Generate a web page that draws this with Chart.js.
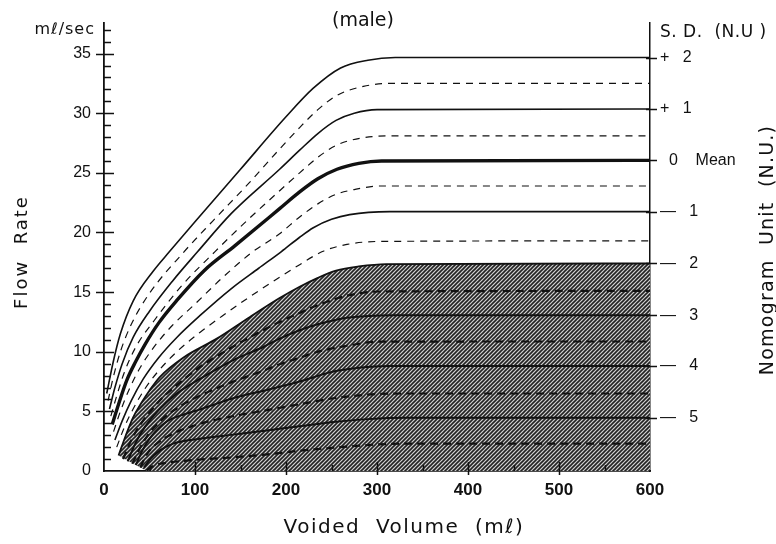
<!DOCTYPE html>
<html>
<head>
<meta charset="utf-8">
<script src="https://cdn.jsdelivr.net/npm/chart.js@4"></script>
<style>
    html, body { margin: 0; padding: 0; background: #fff; }
</style>
</head>
<body>
<canvas id="nomogram" width="776" height="544"></canvas>
<script>
// Curves of the male flow-rate nomogram (volume in ml, flow in ml/sec)
// +2 ... -5.5 S.D., solid on whole units, dashed on half units
const volP20 = [3, 10, 18, 32, 54, 72, 100, 150, 200, 230, 260, 290, 320, 600];
const flowP20 = [6.5, 9.1, 11.5, 14.25, 16.75, 18.4, 20.9, 25.3, 29.7, 32.1, 33.8, 34.45, 34.67, 34.67];

const volP15 = [4.5, 10, 18, 30, 50, 87, 120, 160, 193, 215, 235, 256, 285, 315, 600];
const flowP15 = [5.9, 7.8, 10.0, 12.3, 14.9, 18.3, 21.0, 24.2, 27.0, 28.8, 30.3, 31.5, 32.25, 32.5, 32.5];

const volP10 = [6, 12, 20, 32, 50, 75, 103, 140, 193, 215, 235, 255, 275, 300, 600];
const flowP10 = [5.2, 7.0, 9.0, 11.2, 13.4, 15.9, 18.4, 21.6, 25.3, 26.9, 28.3, 29.4, 30.0, 30.3, 30.35];

const volP05 = [7.5, 14, 22, 35, 55, 85, 122, 160, 193, 215, 235, 255, 285, 320, 600];
const flowP05 = [4.6, 6.3, 8.2, 10.4, 12.6, 15.5, 18.4, 21.2, 23.5, 25.0, 26.3, 27.3, 27.95, 28.1, 28.1];

const volM00 = [9, 16, 25, 35, 45, 60, 80, 110, 144, 193, 215, 235, 256, 280, 305, 600];
const flowM00 = [3.9, 5.6, 7.6, 9.2, 10.6, 12.4, 14.3, 16.8, 18.9, 22.0, 23.4, 24.5, 25.3, 25.8, 26.0, 26.05];

const volM05 = [10.5, 18, 28, 40, 55, 75, 100, 130, 162, 193, 215, 235, 255, 275, 303, 600];
const flowM05 = [3.3, 5.0, 6.9, 8.7, 10.4, 12.2, 14.0, 16.2, 18.3, 19.9, 21.3, 22.4, 23.2, 23.6, 23.9, 23.9];

const volM10 = [12, 20, 30, 43, 60, 80, 105, 140, 170, 195, 215, 230, 250, 270, 314, 600];
const flowM10 = [2.6, 4.2, 5.9, 7.7, 9.5, 11.2, 13.0, 15.3, 17.0, 18.4, 19.6, 20.4, 21.1, 21.5, 21.75, 21.75];

const volM15 = [14, 22, 32, 45, 60, 80, 105, 130, 160, 190, 215, 240, 267, 303, 600];
const flowM15 = [2.0, 3.6, 5.2, 6.9, 8.4, 10.0, 11.6, 13.0, 14.6, 16.1, 17.3, 18.4, 19.0, 19.25, 19.3];

const volM20 = [16, 24, 32, 41, 50, 61, 87, 124, 160, 193, 215, 235, 255, 280, 310, 600];
const flowM20 = [1.3, 3.0, 4.5, 5.7, 6.75, 7.86, 9.5, 11.1, 12.9, 14.5, 15.45, 16.2, 16.8, 17.15, 17.35, 17.4];

const volM25 = [21, 30, 40, 52, 65, 80, 105, 130, 160, 193, 215, 235, 267, 303, 600];
const flowM25 = [1.0, 2.6, 3.9, 5.1, 6.2, 7.2, 8.7, 9.9, 11.2, 12.5, 13.25, 13.9, 14.7, 15.05, 15.1];

const volM30 = [26, 35, 45, 60, 80, 105, 142, 175, 193, 215, 235, 267, 320, 600];
const flowM30 = [0.8, 2.4, 3.7, 5.1, 6.5, 7.7, 9.3, 10.4, 11.1, 11.8, 12.3, 12.85, 13.07, 13.07];

const volM35 = [31, 40, 50, 65, 85, 105, 142, 175, 193, 215, 235, 267, 303, 600];
const flowM35 = [0.6, 2.0, 3.2, 4.4, 5.5, 6.3, 7.5, 8.4, 8.95, 9.5, 10.0, 10.5, 10.85, 10.86];

const volM40 = [35, 42, 52, 69, 90, 105, 142, 179, 215, 250, 280, 314, 600];
const flowM40 = [0.5, 1.7, 2.9, 4.15, 4.8, 5.15, 6.1, 6.8, 7.5, 8.3, 8.65, 8.8, 8.8];

const volM45 = [40, 47, 58, 75, 105, 142, 179, 215, 252, 290, 325, 600];
const flowM45 = [0.3, 1.4, 2.3, 3.1, 3.95, 4.6, 5.1, 5.6, 6.1, 6.4, 6.5, 6.5];

const volM50 = [44, 52, 62, 76, 105, 142, 179, 215, 252, 290, 330, 600];
const flowM50 = [0.3, 1.1, 1.75, 2.3, 2.7, 3.05, 3.4, 3.75, 4.1, 4.35, 4.47, 4.47];

const volM55 = [47, 55, 70, 87, 142, 180, 215, 252, 289, 330, 600];
const flowM55 = [0.05, 0.45, 0.7, 0.85, 1.15, 1.4, 1.7, 1.95, 2.17, 2.3, 2.3];

// foot of the hatched zone on the volume axis (ml)
const shadeFootVol = 47;

// right hand S.D. scale
const sdLabels = ['+   2', '+   1', '  0    Mean', '—   1', '—   2', '—   3', '—   4', '—   5'];
const sdCurves = [flowP20, flowP10, flowM00, flowM10, flowM20, flowM30, flowM40, flowM50];
const sdLevels = sdCurves.map(a => a[a.length - 1]);

const yMax = 37.6;
const xMax = 600;

const toPoints = (vols, flows) => vols.map((v, i) => ({ x: v, y: flows[i] }));

/* Builds the hatching used under the -2 S.D. curve */
const makeHatch = () => {
    const c = document.createElement('canvas');
    c.width = 4;
    c.height = 4;
    const g = c.getContext('2d');
    g.fillStyle = '#d2d2d2';
    g.fillRect(0, 0, 4, 4);
    g.strokeStyle = '#222';
    g.lineWidth = 1.6;
    g.beginPath();
    g.moveTo(0, 4); g.lineTo(4, 0);
    g.moveTo(-1, 1); g.lineTo(1, -1);
    g.moveTo(3, 5); g.lineTo(5, 3);
    g.stroke();
    return g.createPattern(c, 'repeat');
};

const ink = '#111';

const curve = (label, vols, flows, width, dash) => ({
    label: label,
    data: toPoints(vols, flows),
    borderColor: ink,
    borderWidth: width,
    borderDash: dash || [],
    pointRadius: 0,
    fill: false,
    cubicInterpolationMode: 'monotone'
});

const thinDash = [7, 6];
const shadeDash = [8, 5];

const datasets = [
    curve('+2', volP20, flowP20, 1.6),
    curve('+1.5', volP15, flowP15, 1.2, thinDash),
    curve('+1', volP10, flowP10, 1.6),
    curve('+0.5', volP05, flowP05, 1.2, thinDash),
    curve('0', volM00, flowM00, 3.4),
    curve('-0.5', volM05, flowM05, 1.2, thinDash),
    curve('-1', volM10, flowM10, 1.6),
    curve('-1.5', volM15, flowM15, 1.2, thinDash),
    curve('-2', volM20, flowM20, 1.8),
    curve('-2.5', volM25, flowM25, 2.2, shadeDash),
    curve('-3', volM30, flowM30, 2.0),
    curve('-3.5', volM35, flowM35, 2.2, shadeDash),
    curve('-4', volM40, flowM40, 2.0),
    curve('-4.5', volM45, flowM45, 2.2, shadeDash),
    curve('-5', volM50, flowM50, 2.0),
    curve('-5.5', volM55, flowM55, 2.2, shadeDash)
];
const shadeIndex = 8;

/* Hatched zone, tick marks and the loose texts of the scan */
const nomogramDecor = {
    id: 'nomogramDecor',
    beforeDatasetsDraw(chart) {
        const { ctx, chartArea, scales } = chart;
        const line = chart.getDatasetMeta(shadeIndex).dataset;
        line.updateControlPoints(chartArea, 'x');
        ctx.save();
        ctx.beginPath();
        line.path(ctx);
        ctx.lineTo(scales.x.getPixelForValue(xMax), scales.y.getPixelForValue(0));
        ctx.lineTo(scales.x.getPixelForValue(shadeFootVol), scales.y.getPixelForValue(0));
        ctx.closePath();
        ctx.fillStyle = makeHatch();
        ctx.fill();
        ctx.restore();
    },
    afterDraw(chart) {
        const { ctx, chartArea } = chart;
        const { left, right, top, bottom } = chartArea;
        const { x, y, y2 } = chart.scales;

        ctx.save();
        ctx.strokeStyle = ink;
        ctx.lineWidth = 1.5;
        ctx.beginPath();
        y.ticks.forEach(t => {
            if (!Number.isInteger(t.value) || t.value === 0) return;
            const py = Math.round(y.getPixelForValue(t.value)) + 0.5;
            if (t.value % 5 === 0) {
                ctx.moveTo(left - 8, py); ctx.lineTo(left + 10, py);
            } else {
                ctx.moveTo(left, py); ctx.lineTo(left + 7, py);
            }
        });
        x.ticks.forEach(t => {
            if (t.value === 0 || t.value === xMax) return;
            const px = Math.round(x.getPixelForValue(t.value)) + 0.5;
            if (t.value % 100 === 0) {
                ctx.moveTo(px, bottom + 4); ctx.lineTo(px, bottom - 9);
            } else {
                ctx.moveTo(px, bottom); ctx.lineTo(px, bottom - 6);
            }
        });
        sdLevels.forEach(v => {
            const py = Math.round(y2.getPixelForValue(v)) + 0.5;
            ctx.moveTo(right - 4, py); ctx.lineTo(right + 7, py);
        });
        ctx.stroke();

        ctx.fillStyle = ink;
        ctx.textBaseline = 'alphabetic';

        ctx.font = '16px "DejaVu Sans"';
        ctx.letterSpacing = '1px';
        ctx.textAlign = 'right';
        ctx.fillText('mℓ/sec', left - 9, top + 11);

        ctx.font = '19px "DejaVu Sans"';
        ctx.letterSpacing = '0px';
        ctx.textAlign = 'center';
        ctx.fillText('(male)', 363, 26);

        ctx.font = '17px "DejaVu Sans"';
        ctx.letterSpacing = '0.5px';
        ctx.textAlign = 'left';
        ctx.fillText('S. D.  (N.U )', right + 10, top + 14);

        ctx.font = '20px "DejaVu Sans"';
        ctx.letterSpacing = '1.5px';
        ctx.textAlign = 'center';
        ctx.fillText('Voided  Volume  (mℓ)', 404, 533);

        ctx.font = '18px "DejaVu Sans"';
        ctx.letterSpacing = '2px';
        ctx.save();
        ctx.translate(27, 252);
        ctx.rotate(-Math.PI / 2);
        ctx.fillText('Flow  Rate', 0, 0);
        ctx.restore();

        ctx.font = '19px "DejaVu Sans"';
        ctx.letterSpacing = '1.2px';
        ctx.save();
        ctx.translate(773, 250);
        ctx.rotate(-Math.PI / 2);
        ctx.fillText('Nomogram  Unit  (N.U.)', 0, 0);
        ctx.restore();

        ctx.restore();
    }
};

const init = () => {

    const config = {
        type: 'line',
        data: { datasets: datasets },
        options: {
            responsive: false,
            animation: false,
            events: [],
            layout: { padding: { top: 20, left: 0, right: 0, bottom: 0 } },
            plugins: {
                legend: { display: false },
                tooltip: { enabled: false }
            },
            scales: {
                x: {
                    type: 'linear',
                    min: 0,
                    max: xMax,
                    grid: { display: false, drawTicks: false },
                    border: { display: true, color: ink, width: 1.8 },
                    ticks: {
                        stepSize: 50,
                        autoSkip: false,
                        maxRotation: 0,
                        padding: 9,
                        color: ink,
                        font: { family: '"Liberation Sans"', size: 17, weight: 'bold' },
                        callback: v => (v % 100 === 0 ? String(v) : '')
                    },
                    afterFit: scale => { scale.height = 73; }
                },
                y: {
                    type: 'linear',
                    position: 'left',
                    min: 0,
                    max: yMax,
                    grid: { display: false, drawTicks: false },
                    border: { display: true, color: ink, width: 1.8 },
                    ticks: {
                        stepSize: 1,
                        autoSkip: false,
                        includeBounds: false,
                        padding: 13,
                        color: ink,
                        font: { family: '"Liberation Sans"', size: 16 },
                        callback: v => (v % 5 === 0 ? String(v) : '')
                    },
                    afterFit: scale => { scale.width = 104; }
                },
                y2: {
                    type: 'linear',
                    position: 'right',
                    min: 0,
                    max: yMax,
                    grid: { display: false, drawTicks: false },
                    border: { display: true, color: ink, width: 1.5 },
                    afterBuildTicks: scale => {
                        scale.ticks = sdLevels.map(v => ({ value: v }));
                    },
                    ticks: {
                        autoSkip: false,
                        padding: 10,
                        color: ink,
                        font: { family: '"Liberation Sans"', size: 16 },
                        callback: (v, i) => sdLabels[i]
                    },
                    afterFit: scale => { scale.width = 126; }
                }
            }
        },
        plugins: [nomogramDecor]
    };

    const ctx = document.getElementById('nomogram').getContext('2d');
    new Chart(ctx, config);
};

document.addEventListener('DOMContentLoaded', () => {
    init();
});
</script>
</body>
</html>
